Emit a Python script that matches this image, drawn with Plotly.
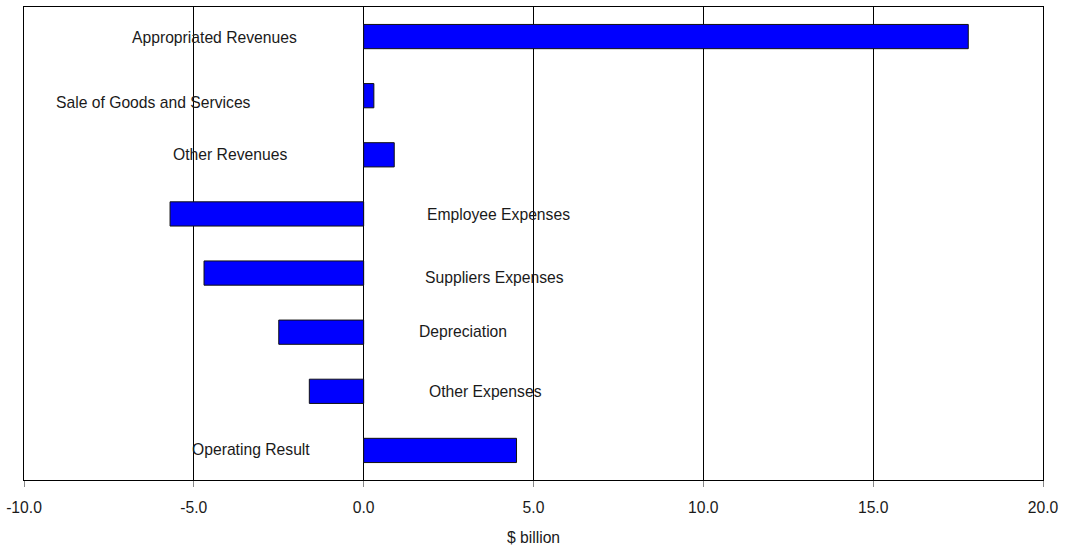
import plotly.graph_objects as go

# Operating statement components, $ billion
categories = [
    "Appropriated Revenues",
    "Sale of Goods and Services",
    "Other Revenues",
    "Employee Expenses",
    "Suppliers Expenses",
    "Depreciation",
    "Other Expenses",
    "Operating Result",
]
values = [17.8, 0.3, 0.9, -5.7, -4.7, -2.5, -1.6, 4.5]

# Where each category name sits (x in $ billion, vertical nudge in px)
label_x = [-4.39, -6.19, -3.95, 3.96, 3.84, 2.92, 3.58, -3.32]
label_yshift = [-1, -7, 0, -1, -4, 1, 0, 1]

x_ticks = [-10, -5, 0, 5, 10, 15, 20]
x_tick_text = ["-10.0", "-5.0", "0.0", "5.0", "10.0", "15.0", "20.0"]

FONT = "Liberation Sans, Arial, sans-serif"
TEXT_SIZE = 15.7

fig = go.Figure(
    go.Bar(
        x=values,
        y=categories,
        orientation="h",
        marker=dict(color="#0000FF", line=dict(color="#111111", width=1)),
        width=0.41,
        hoverinfo="x+y",
    )
)

for name, lx, ys in zip(categories, label_x, label_yshift):
    fig.add_annotation(
        x=lx, y=name, text=name, showarrow=False, yshift=ys,
        xanchor="center", yanchor="middle",
        font=dict(family=FONT, size=TEXT_SIZE, color="#1a1a1a"),
    )

fig.update_layout(
    width=1067, height=550,
    margin=dict(l=23, r=24, t=6, b=69),
    paper_bgcolor="white", plot_bgcolor="white",
    showlegend=False,
    font=dict(family=FONT, size=TEXT_SIZE, color="#1a1a1a"),
)

fig.update_xaxes(
    range=[-10, 20],
    tickvals=x_ticks, ticktext=x_tick_text,
    showgrid=True, gridcolor="#000000", gridwidth=1,
    zeroline=True, zerolinecolor="#000000", zerolinewidth=1,
    showline=True, linecolor="#000000", linewidth=1, mirror=True,
    ticks="outside", ticklen=6, tickcolor="#888888",
    ticklabelstandoff=7,
    tickfont=dict(family=FONT, size=TEXT_SIZE, color="#1a1a1a"),
    title=dict(text="$ billion", standoff=17,
               font=dict(family=FONT, size=TEXT_SIZE, color="#1a1a1a")),
)

fig.update_yaxes(
    categoryorder="array", categoryarray=categories,
    autorange="reversed",
    showticklabels=False, showgrid=False, zeroline=False,
    showline=True, linecolor="#000000", linewidth=1, mirror=True,
    ticks="",
)

fig.write_html("out.html")
